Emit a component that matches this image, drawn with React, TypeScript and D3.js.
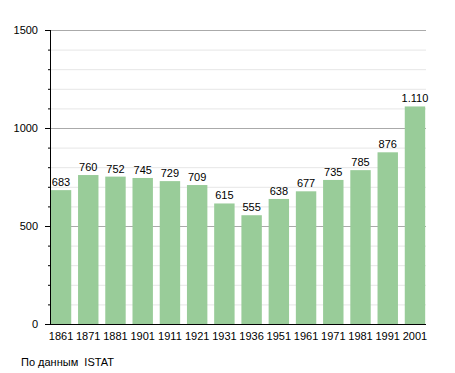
import React from 'react';
import * as d3 from 'd3';

// censimenti e popolazione
const years = ['1861', '1871', '1881', '1901', '1911', '1921', '1931', '1936', '1951', '1961', '1971', '1981', '1991', '2001'];
const population = [683, 760, 752, 745, 729, 709, 615, 555, 638, 677, 735, 785, 876, 1110];
const majorTicks = [0, 500, 1000, 1500];
const minorTicks = d3.range(0, 1501, 100);
const sourceNote = 'По данным  ISTAT';

const W = 455, H = 373;
const left = 50, right = 426, top = 30, bottom = 324;
const font = 'Liberation Sans, Arial, sans-serif';

const fmt = (v: number) => d3.format(',')(v).replace(/,/g, '.');

export default function App() {
  const x = d3.scaleBand().domain(years).range([left, right]).paddingInner(0.25).paddingOuter(0.03);
  const y = d3.scaleLinear().domain([0, 1500]).range([bottom, top]);

  return (
    <svg width={W} height={H} style={{ position: 'absolute', left: 0, top: 0 }}>
      <rect width={W} height={H} fill="#fff" />
      {/* minor grid */}
      {minorTicks.filter(t => t % 500 !== 0).map(t => (
        <g key={'m' + t}>
          <line x1={left} x2={right} y1={y(t) + 0.5} y2={y(t) + 0.5} stroke="#e6e6e6" />
          <line x1={left - 2} x2={left} y1={y(t) + 0.5} y2={y(t) + 0.5} stroke="#000" />
        </g>
      ))}
      {majorTicks.map(t => (
        <g key={'M' + t}>
          {t > 0 && <line x1={left} x2={right} y1={y(t) + 0.5} y2={y(t) + 0.5} stroke="#aaa" />}
          <line x1={left - 5} x2={left} y1={y(t) + 0.5} y2={y(t) + 0.5} stroke="#000" />
          <text x={38} y={y(t) + 4} textAnchor="end" fontFamily={font} fontSize={11} fill="#000">{t}</text>
        </g>
      ))}
      {years.map((yr, i) => (
        <g key={yr}>
          <rect x={x(yr)!} width={x.bandwidth()} y={y(population[i])} height={bottom - y(population[i])} fill="#99cc99" />
          <text x={x(yr)! + x.bandwidth() / 2} y={y(population[i]) - 4} textAnchor="middle" fontFamily={font} fontSize={11} fill="#000">{fmt(population[i])}</text>
          <text x={x(yr)! + x.bandwidth() / 2} y={340} textAnchor="middle" fontFamily={font} fontSize={11} fill="#000">{yr}</text>
        </g>
      ))}
      <line x1={left + 0.5} x2={left + 0.5} y1={top} y2={bottom + 1} stroke="#000" />
      <line x1={left} x2={right} y1={bottom + 0.5} y2={bottom + 0.5} stroke="#000" />
      <text x={21} y={366} fontFamily={font} fontSize={11} fill="#000" style={{ whiteSpace: 'pre' }}>{sourceNote}</text>
    </svg>
  );
}
